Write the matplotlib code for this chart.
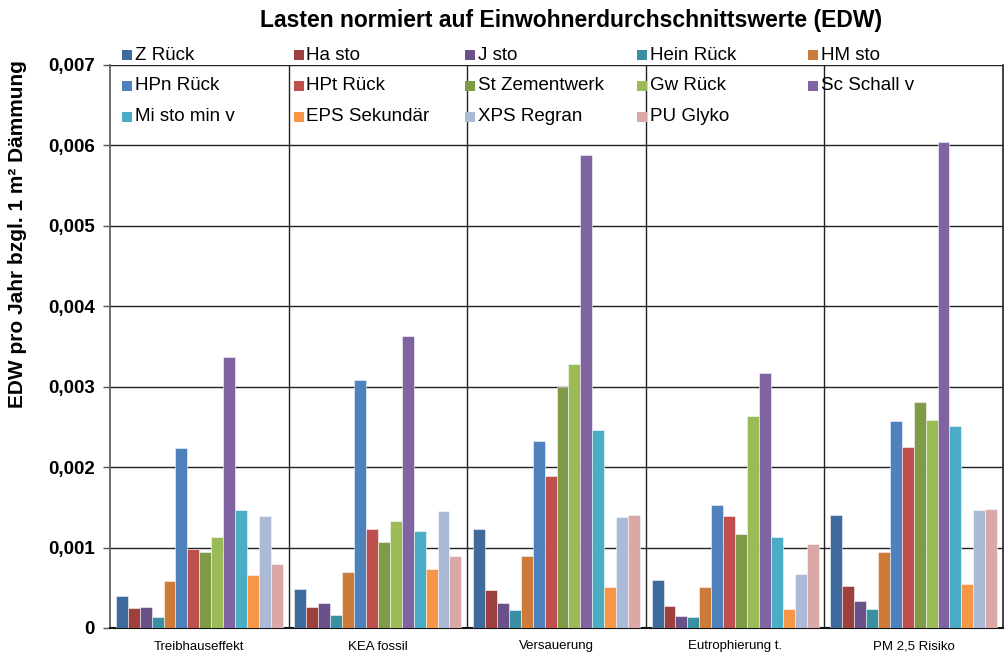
import matplotlib
matplotlib.use('Agg')
import matplotlib.pyplot as plt
import numpy as np
from matplotlib.patches import Rectangle
from matplotlib.ticker import MultipleLocator, FuncFormatter

plt.rcParams['font.family'] = ['Liberation Sans', 'DejaVu Sans']

#~~~~~~~~~~~~~~~~~~
# DATA
#~~~~~~~~~~~~~~~~~~

categories = ['Treibhauseffekt', 'KEA fossil', 'Versauerung', 'Eutrophierung t.', 'PM 2,5 Risiko']

series = ['Z Rück', 'Ha sto', 'J sto', 'Hein Rück', 'HM sto',
          'HPn Rück', 'HPt Rück', 'St Zementwerk', 'Gw Rück', 'Sc Schall v',
          'Mi sto min v', 'EPS Sekundär', 'XPS Regran', 'PU Glyko']

colors = ['#3F6A9C', '#9E403E', '#6A5189', '#3A8FA3', '#CC7B38',
          '#4F81BD', '#C0504D', '#7F9B48', '#9BBB59', '#8064A2',
          '#4BACC6', '#F79646', '#AABAD7', '#D9A8A7']

# one list per category, values in series order
treibhaus = [0.00040, 0.000245, 0.000257, 0.000137, 0.000588, 0.002235, 0.000979,
             0.000941, 0.001136, 0.00337, 0.001464, 0.000659, 0.001389, 0.000792]
kea = [0.000481, 0.000257, 0.000311, 0.000162, 0.000693, 0.00308, 0.001235,
       0.001073, 0.001335, 0.00363, 0.001203, 0.00073, 0.001455, 0.0009]
versauerung = [0.001231, 0.000469, 0.000307, 0.00022, 0.000896, 0.00233, 0.001894,
               0.002998, 0.00328, 0.005875, 0.002459, 0.000514, 0.001377, 0.00141]
eutroph = [0.000593, 0.000278, 0.000153, 0.000137, 0.00051, 0.001526, 0.001389,
           0.001169, 0.00264, 0.003172, 0.001128, 0.000236, 0.000675, 0.001045]
pm25 = [0.001409, 0.000525, 0.000341, 0.00024, 0.000943, 0.002569, 0.002248,
        0.002815, 0.00259, 0.00604, 0.002516, 0.000552, 0.001461, 0.001475]

values = np.array([treibhaus, kea, versauerung, eutroph, pm25])  # (category, series)

#~~~~~~~~~~
# PLOTTING
#~~~~~~~~~~

W, H = 1007, 654
fig = plt.figure(figsize=(W / 100, H / 100), dpi=100)
ax = fig.add_axes([110 / W, 26 / H, 893 / W, 563 / H])

n = len(series)
w = 0.935 / n
x = np.arange(len(categories))
for k in range(n):
    ax.bar(x - 0.935 / 2 + (k + 0.5) * w, values[:, k], width=w, color=colors[k],
           edgecolor=(1, 1, 1, 0.6), linewidth=0.6, zorder=3)

ax.set_xlim(-0.5, len(categories) - 0.5)
ax.set_ylim(0, 0.007)
ax.yaxis.set_major_locator(MultipleLocator(0.001))
ax.yaxis.set_major_formatter(FuncFormatter(lambda v, p: '0' if abs(v) < 1e-12 else ('%.3f' % v).replace('.', ',')))
ax.set_xticks(x)
ax.set_xticklabels(categories, fontsize=9.5)
ax.set_xticks(np.arange(0.5, len(categories) - 0.5), minor=True)
ax.tick_params(axis='x', which='both', length=0, pad=9)
ax.tick_params(axis='y', length=5, width=1, color='#555555', labelsize=13.5, pad=6)
for lab in ax.get_yticklabels():
    lab.set_fontweight('bold')

ax.yaxis.grid(True, which='major', color='#222222', linewidth=1, zorder=0)
ax.xaxis.grid(True, which='minor', color='#222222', linewidth=1, zorder=0)
ax.set_axisbelow(True)

ax.spines['top'].set_visible(False)
ax.spines['left'].set_color('#555555')
ax.spines['left'].set_linewidth(1.2)
ax.spines['right'].set_color('#222222')
ax.spines['right'].set_linewidth(1.2)
ax.spines['bottom'].set_color('#111111')
ax.spines['bottom'].set_linewidth(1.5)

fig.text(571 / W, 1 - 20 / H, 'Lasten normiert auf Einwohnerdurchschnittswerte (EDW)',
         ha='center', va='center', fontsize=16.5, fontweight='bold')
fig.text(18 / W, 1 - 234 / H, 'EDW pro Jahr bzgl. 1 m² Dämmung', rotation=90,
         ha='center', va='center', fontsize=15, fontweight='bold')

# legend: 5 equal-width columns, row by row
col_x = [122 + 171.5 * c for c in range(5)]
row_y = [55, 85.5, 116.5]
for k, (lab, col) in enumerate(zip(series, colors)):
    r, c = divmod(k, 5)
    xp, yp = col_x[c], row_y[r]
    fig.add_artist(Rectangle((xp / W, 1 - (yp + 5) / H), 10 / W, 10 / H,
                             transform=fig.transFigure, facecolor=col, edgecolor='none'))
    fig.text((xp + 13) / W, 1 - yp / H, lab, ha='left', va='center', fontsize=13.5)

plt.savefig('out.png', dpi=100)
